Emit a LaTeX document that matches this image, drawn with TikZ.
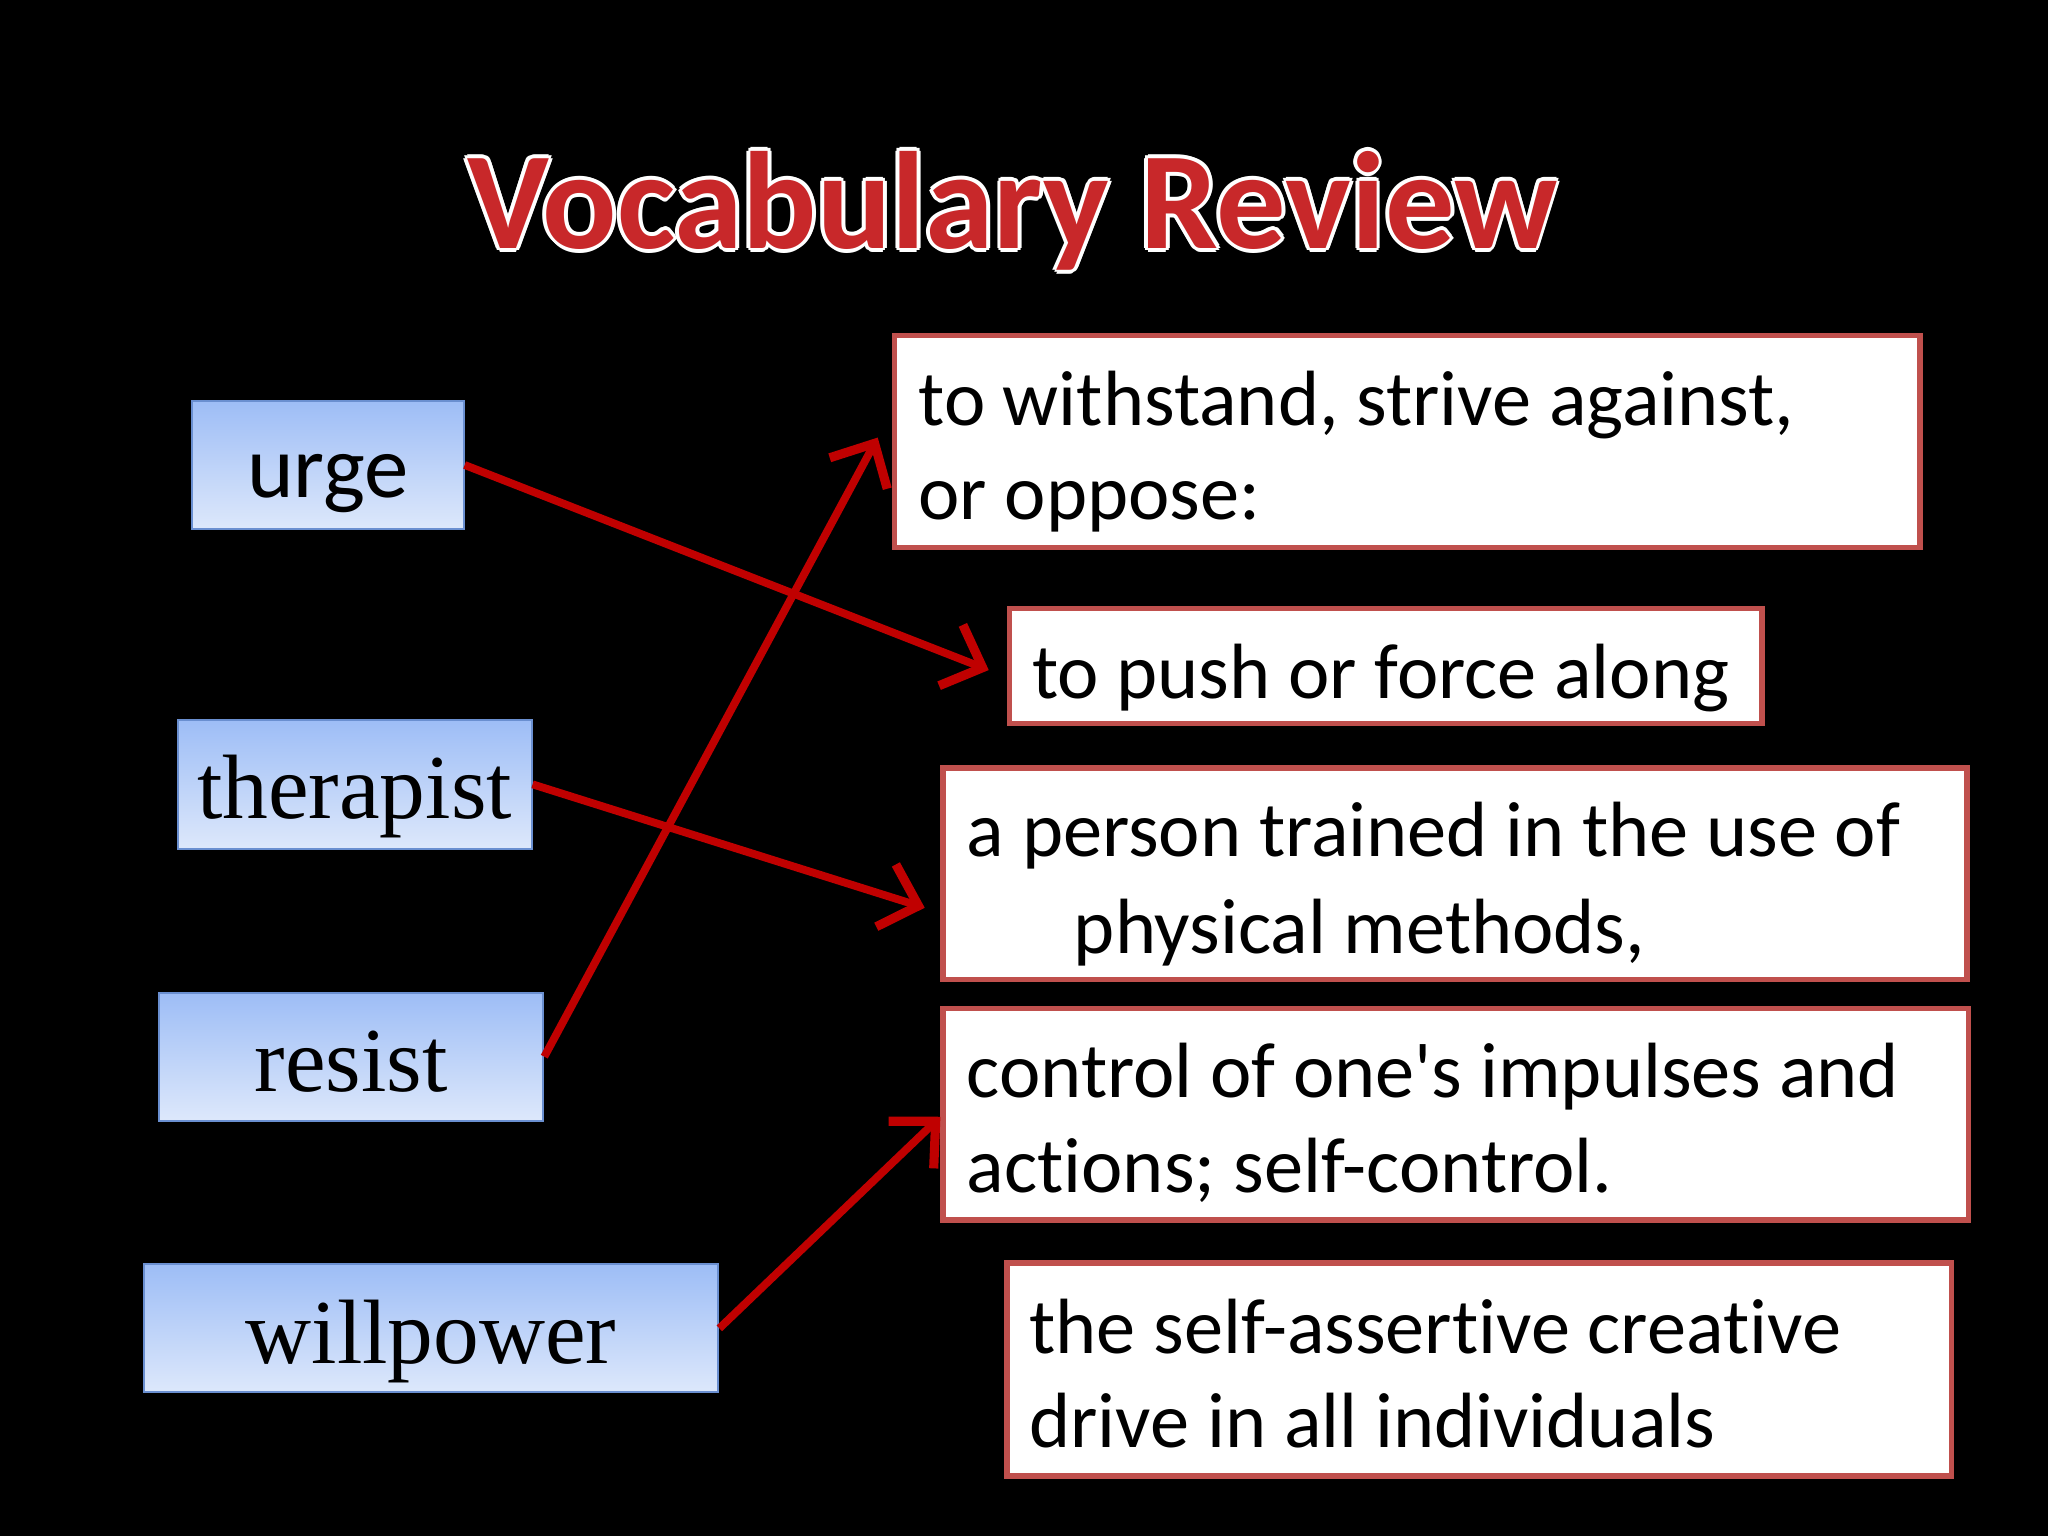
\documentclass[tikz,border=0pt]{standalone}
\usepackage{fontspec}
\setmainfont{Carlito}[Ligatures={NoCommon}]
\newfontfamily\serifw{Liberation Serif}
\usetikzlibrary{arrows.meta}
\definecolor{arr}{HTML}{C00000}
\definecolor{bord}{HTML}{C0504D}
\definecolor{btop}{HTML}{9DBDF6}
\definecolor{bbot}{HTML}{DDE8FB}
\definecolor{bbord}{HTML}{6A8FD0}
\definecolor{ttl}{HTML}{C8282A}
\tikzset{
 word/.style={draw=bbord,line width=1.5pt,top color=btop,bottom color=bbot,inner sep=0pt},
 defbox/.style={draw=bord,fill=white,line width=4pt,inner sep=0pt},
 deftxt/.style={anchor=base west,inner sep=0pt,font=\fontsize{60}{66}\selectfont},
 link/.style={draw=arr,line width=6pt,-{Straight Barb[length=26pt,width=50pt,line width=7pt]}},
}
\begin{document}
\begin{tikzpicture}[x=1pt,y=-1pt]
\fill[black] (0,0) rectangle (1568,1176);
\useasboundingbox (0,0) rectangle (1568,1176);
% title
\foreach \dx/\dy in {-3/0,3/0,0/-3,0/3,-2/-2,2/2,-2/2,2/-2}
  \node[text=white,font=\fontsize{106}{110}\bfseries\selectfont,anchor=base] at (775+\dx,190+\dy) {Vocabulary Review};
\node[text=ttl,font=\fontsize{106}{110}\bfseries\selectfont,anchor=base] (title) at (775,190) {Vocabulary Review};
% word boxes
\node[word,minimum width=208pt,minimum height=98pt] (urge) at (251,356) {};
\node[anchor=base,font=\fontsize{68}{72}\selectfont] at (251,381) {urge};
\node[word,minimum width=271pt,minimum height=99pt] (ther) at (271.5,600.5) {};
\node[anchor=base,font=\serifw\fontsize{70}{76}\selectfont] at (271.5,627) {therapist};
\node[word,minimum width=294pt,minimum height=98pt] (res) at (269,809) {};
\node[anchor=base,font=\serifw\fontsize{70}{76}\selectfont] at (269,836) {resist};
\node[word,minimum width=440pt,minimum height=98pt] (will) at (330,1017) {};
\node[anchor=base,font=\serifw\fontsize{70}{76}\selectfont] at (330,1044) {willpower};
% definition boxes
\node[defbox,minimum width=785pt,minimum height=162pt] (d1) at (1077.5,338) {};
\node[deftxt] at (703,326) {to withstand, strive against,};
\node[deftxt] at (703,398) {or oppose:};
\node[defbox,minimum width=576pt,minimum height=88pt] (d2) at (1061,510) {};
\node[deftxt] at (790,535) {to push or force along};
\node[defbox,minimum width=784pt,minimum height=162pt] (d3) at (1114,669) {};
\node[deftxt] at (740,656) {a person trained in the use of};
\node[deftxt] at (822,730) {physical methods,};
\node[defbox,minimum width=785pt,minimum height=162pt] (d4) at (1114.5,853) {};
\node[deftxt] at (740,840) {control of one\textquotesingle s impulses and};
\node[deftxt] at (740,913) {actions; self-control.};
\node[defbox,minimum width=723pt,minimum height=163pt] (d5) at (1132.5,1048.5) {};
\node[deftxt] at (788,1036) {the self-assertive creative};
\node[deftxt] at (788,1108) {drive in all individuals};
% connectors
\coordinate (a1) at (757,513);
\coordinate (a2) at (708,695);
\coordinate (a3) at (672,335);
\coordinate (a4) at (720,855);
\draw[link] (urge.east) -- (a1);
\draw[link] (ther.east) -- (a2);
\draw[link] (res.east) -- (a3);
\draw[link] (will.east) -- (a4);
\end{tikzpicture}
\end{document}
